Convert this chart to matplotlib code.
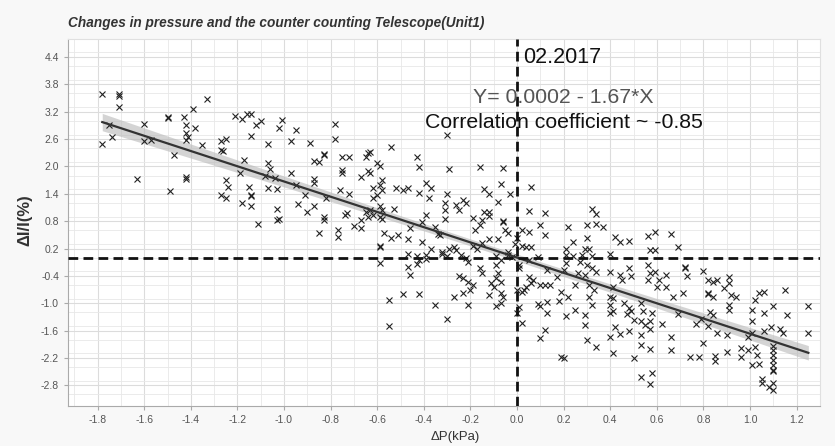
import matplotlib
matplotlib.use("Agg")
import matplotlib.pyplot as plt
import numpy as np
from matplotlib.ticker import MultipleLocator

plt.rcParams["font.family"] = ["Liberation Sans", "DejaVu Sans"]

# pressure change (kPa), intensity change (%)
dp = [
  -1.78, -1.71, -1.71, -1.71, -1.75, -1.74, -1.78, -1.60, -1.60, -1.57,
  -1.50, -1.50, -1.43, -1.39, -1.42, -1.38, -1.42, -1.41, -1.42, -1.35,
  -1.47, -1.63, -1.42, -1.42, -1.49, -1.33,
  -1.21, -1.18, -1.16, -1.14, -1.12, -1.10, -1.01,
  -1.14, -1.02, -0.95, -1.07, -0.97, -0.89, -1.27, -1.25, -1.27, -1.26,
  -1.17, -1.19, -1.07, -1.06, -1.08, -1.04, -0.97, -0.95, -0.87, -0.87, -0.87, -0.85, -0.83,
  -1.25, -1.24, -1.27, -1.25, -1.15, -1.14, -1.14, -1.18, -1.14, -1.07, -1.03, -1.03, -1.03, -1.02, -1.11,
  -0.91, -0.94, -0.87, -0.90, -0.83, -0.85,
  -0.78, -0.78, -0.83, -0.75, -0.72, -0.75, -0.75, -0.64, -0.63, -0.65, -0.54, -0.60, -0.59,
  -0.64, -0.63, -0.67, -0.43, -0.42, -0.58, -0.59, -0.62, -0.58, -0.76, -0.72, -0.82, -0.52,
  -0.49, -0.47, -0.42, -0.39, -0.37, -0.38, -0.62, -0.60, -0.59, -0.58, -0.53, -0.65, -0.64,
  -0.62, -0.63, -0.73, -0.74, -0.67, -0.70, -0.67, -0.58, -0.59, -0.83, -0.77, -0.77, -0.57,
  -0.54, -0.51, -0.47, -0.46, -0.39, -0.41, -0.35, -0.34, -0.33, -0.41, -0.37, -0.59, -0.59,
  -0.59, -0.47, -0.43, -0.42, -0.43, -0.39, -0.39, -0.32, -0.47, -0.46, -0.49, -0.42, -0.55,
  -0.35, -0.55,
  -0.30, -0.29, -0.16, -0.06, -0.07, -0.14, -0.12, -0.03, -0.08, 0.06, -0.30, -0.31, -0.31,
  -0.31, -0.26, -0.23, -0.22, -0.25, -0.19, -0.14, -0.12, -0.12, -0.15, -0.16, -0.18, -0.06,
  -0.06, -0.05, -0.04, 0.05, 0.12, 0.10, 0.12, 0.02, 0.05, 0.00, -0.01, 0.02, 0.04, 0.06,
  -0.08, -0.12, -0.15, -0.19, -0.17, -0.27, -0.26, -0.29, -0.24, -0.22, -0.30, -0.32, -0.21,
  -0.09, -0.04, -0.04, -0.02, -0.07, -0.09, 0.01, 0.01, 0.05, 0.09, 0.13, 0.17, -0.16, -0.15,
  -0.25, -0.23, -0.21, -0.19, -0.20, -0.23, -0.27, -0.21, -0.30, -0.08, -0.09, -0.11, -0.07,
  -0.10, -0.12, -0.07, -0.06, -0.07, -0.09, 0.00, 0.02, 0.03, 0.04, 0.06, 0.07, 0.05, 0.10,
  0.12, 0.14, 0.01, 0.00, 0.09, 0.10, 0.13, 0.13, 0.02, 0.12, 0.10, 0.19, 0.18, 0.19,
  0.32, 0.34, 0.30, 0.34, 0.37, 0.22, 0.24, 0.21, 0.21, 0.24, 0.30, 0.29, 0.31, 0.28, 0.32,
  0.42, 0.44, 0.48, 0.40, 0.56, 0.59, 0.66, 0.57, 0.59, 0.69, 0.21, 0.20, 0.27, 0.30, 0.32,
  0.34, 0.29, 0.26, 0.25, 0.22, 0.25, 0.21, 0.20, 0.31, 0.33, 0.31, 0.32, 0.29, 0.29, 0.30,
  0.34, 0.40, 0.44, 0.45, 0.41, 0.40, 0.41, 0.40, 0.40, 0.41, 0.42, 0.40, 0.44, 0.41, 0.48,
  0.49, 0.46, 0.48, 0.49, 0.47, 0.50, 0.48, 0.50, 0.53, 0.54, 0.53, 0.55, 0.53, 0.53, 0.57,
  0.53, 0.58, 0.57, 0.56, 0.57, 0.56, 0.59, 0.60, 0.61, 0.64, 0.64, 0.58, 0.57, 0.57, 0.62,
  0.67, 0.69, 0.66, 0.66, 0.71,
  0.72, 0.72, 0.73, 0.80, 0.82, 0.84, 0.86, 0.89, 0.91, 0.91, 0.92, 0.94, 0.91, 0.91, 0.82,
  0.82, 0.84, 0.83, 0.84, 0.77, 0.79, 0.82, 0.86, 0.90, 0.80, 0.74, 0.78, 0.85, 0.85, 0.90,
  0.96, 0.96, 0.99, 1.02, 1.03, 1.01, 1.04, 0.99, 1.01, 1.01, 1.02, 1.04, 1.06, 1.06, 1.10,
  1.15, 1.16, 1.01, 1.06, 1.09, 1.13, 1.14, 1.10, 1.10, 1.10, 1.10, 1.10, 1.10, 1.10, 1.05,
  1.05, 1.08, 1.10, 1.10, 1.25, 1.25,
]
di = [
  3.58, 3.58, 3.54, 3.31, 2.91, 2.65, 2.49, 2.93, 2.56, 2.58,
  3.08, 3.06, 3.08, 3.27, 2.91, 2.84, 2.73, 2.64, 2.58, 2.47,
  2.24, 1.72, 1.76, 1.73, 1.47, 3.48,
  3.11, 3.03, 3.14, 3.15, 2.91, 3.00, 3.02,
  2.67, 2.84, 2.81, 2.49, 2.55, 2.52, 2.56, 2.60, 2.35, 2.34,
  2.14, 1.85, 2.07, 1.94, 1.78, 1.75, 1.85, 1.59, 1.72, 1.64, 2.13, 2.10, 2.25,
  1.70, 1.54, 1.37, 1.30, 1.56, 1.35, 1.38, 1.19, 1.13, 1.52, 1.51, 1.07, 0.83, 0.84, 0.74,
  1.37, 1.17, 1.13, 0.99, 0.90, 0.53,
  2.92, 2.60, 2.27, 2.21, 2.21, 1.92, 1.85, 2.29, 2.32, 2.21, 2.43, 2.07, 2.00,
  1.91, 1.85, 1.76, 2.20, 1.98, 1.70, 1.59, 1.52, 1.48, 1.48, 1.40, 1.30, 1.52,
  1.48, 1.52, 1.42, 1.64, 1.52, 1.30, 1.30, 1.37, 1.13, 1.04, 1.06, 1.01, 0.90,
  0.94, 1.04, 0.97, 0.94, 0.83, 0.69, 0.64, 0.84, 0.90, 0.83, 0.61, 0.45, 0.53,
  0.42, 0.50, 0.40, 0.64, 0.94, 0.79, 0.68, 0.52, 0.50, 0.35, 0.20, 0.23, 0.26,
  -0.11, 0.07, 0.04, -0.05, -0.14, 0.06, -0.04, 0.07, -0.20, -0.38, -0.80, -0.80, -0.94,
  -1.04, -1.50,
  2.69, 1.94, 1.98, 1.96, 1.61, 1.50, 1.40, 1.40, 1.23, 1.54, 1.40, 1.19, 1.04,
  0.84, 1.15, 1.26, 1.20, 1.04, 0.86, 1.01, 1.01, 0.91, 0.83, 0.72, 0.61, 0.81,
  0.78, 0.61, 0.55, 1.03, 0.97, 0.72, 0.50, 0.61, 0.57, 0.42, 0.30, 0.26, 0.24, 0.24,
  0.40, 0.40, 0.31, 0.26, 0.20, 0.24, 0.17, 0.18, 0.06, -0.01, 0.04, 0.13, -0.09,
  0.04, 0.13, 0.06, 0.02, -0.05, -0.16, -0.16, -0.23, -0.05, 0.02, -0.27, -0.42, -0.23, -0.34,
  -0.40, -0.45, -0.53, -0.60, -0.71, -0.77, -0.86, -1.04, -1.35, -0.34, -0.45, -0.56, -0.53,
  -0.65, -0.82, -0.77, -0.86, -1.00, -1.06, -0.71, -0.75, -0.71, -0.64, -0.56, -0.49, -0.42, -0.60,
  -0.60, -0.60, -1.08, -1.22, -1.02, -1.06, -0.97, -1.21, -1.43, -1.59, -1.77, -0.75, -0.95, -2.19,
  1.06, 0.96, 0.72, 0.74, 0.67, 0.68, 0.35, 0.20, 0.06, 0.04, 0.42, 0.20, 0.20, 0.06, 0.04,
  0.46, 0.35, 0.37, 0.08, 0.47, 0.57, 0.52, 0.17, 0.17, 0.23, -0.12, -0.27, -0.09, -0.16, -0.23,
  -0.31, -0.38, -0.34, -0.60, -0.86, -1.15, -1.28, -2.21, -0.60, -0.71, -0.86, -1.04, -1.26, -1.48, -1.81,
  -1.97, -0.31, -0.38, -0.49, -0.64, -0.86, -0.89, -1.04, -1.22, -1.18, -1.53, -1.73, -1.67, -2.10, -0.23,
  -0.40, -1.00, -1.11, -1.18, -1.24, -1.37, -1.62, -2.21, -1.00, -1.16, -1.40, -1.48, -1.70, -1.92, -2.01,
  -2.61, -2.54, -2.78, -0.16, -0.34, -0.49, -0.31, -0.64, -0.49, -0.38, -0.65, -1.22, -1.38, -1.57, -1.45,
  -0.86, -1.24, -1.73, -2.03, -0.78,
  -0.20, -0.23, -0.40, -0.29, -0.49, -0.53, -0.49, -0.67, -0.43, -0.56, -0.82, -0.87, -1.04, -1.15, -0.77,
  -0.80, -0.87, -1.19, -1.26, -1.45, -1.35, -1.50, -1.66, -1.70, -1.87, -2.19, -2.19, -2.16, -2.26, -2.06,
  -1.99, -2.19, -2.03, -1.95, -2.13, -2.35, -2.33, -1.73, -1.40, -1.15, -0.93, -0.78, -0.75, -1.21, -1.06,
  -0.72, -1.26, -1.66, -1.62, -1.53, -1.57, -1.65, -1.94, -2.03, -2.14, -2.25, -2.35, -2.46, -2.49, -2.67,
  -2.76, -2.83, -2.76, -2.90, -1.06, -1.66,
]

# fit given on the chart
intercept = 0.0002
slope = -1.67
fit_range = [-1.78, 1.25]

x_ticks = [-1.8, -1.6, -1.4, -1.2, -1.0, -0.8, -0.6, -0.4, -0.2, 0.0, 0.2, 0.4, 0.6, 0.8, 1.0, 1.2]
y_ticks = [4.4, 3.8, 3.2, 2.6, 2.0, 1.4, 0.8, 0.2, -0.4, -1.0, -1.6, -2.2, -2.8]

x = np.array(dp)
y = np.array(di)

fig = plt.figure(figsize=(8.35, 4.46), dpi=100, facecolor="#f8f8f8")
ax = fig.add_axes([68 / 835, 1 - 406 / 446, 752 / 835, 367 / 446])
ax.set_facecolor("white")

ax.set_xlim(-1.927, 1.30)
ax.set_ylim(-3.254, 4.795)

ax.set_xticks(x_ticks)
ax.set_xticklabels([f"{v:.1f}" for v in x_ticks])
ax.set_yticks(y_ticks)
ax.set_yticklabels([f"{v:.1f}" for v in y_ticks])
ax.xaxis.set_minor_locator(MultipleLocator(0.1))
ax.yaxis.set_minor_locator(MultipleLocator(0.3))
ax.grid(which="major", color="#dcdcdc", lw=0.8)
ax.grid(which="minor", color="#e8e8e8", lw=0.6)
ax.set_axisbelow(True)
ax.tick_params(which="major", labelsize=7.5, labelcolor="#555555", color="#aaaaaa", length=3)
ax.tick_params(which="minor", length=0)
for side in ["top", "right"]:
  ax.spines[side].set_color("#e0e0e0")
for side in ["left", "bottom"]:
  ax.spines[side].set_color("#aaaaaa")

# confidence band around the stated fit
xs = np.linspace(fit_range[0], fit_range[1], 100)
ys = intercept + slope * xs
resid = y - (intercept + slope * x)
s = np.sqrt(np.sum(resid ** 2) / (len(x) - 2))
se = s * np.sqrt(1 / len(x) + (xs - x.mean()) ** 2 / np.sum((x - x.mean()) ** 2))
ax.fill_between(xs, ys - 1.96 * se, ys + 1.96 * se, color="#b8b8b8", alpha=0.6, lw=0, zorder=2)

ax.plot(x, y, "x", color="#222222", ms=4.5, mew=0.8, zorder=3)
ax.plot(xs, ys, color="#333333", lw=1.6, zorder=4)

ax.axhline(0, color="#111111", lw=2, ls=(0, (3.5, 1.9)), zorder=5)
ax.axvline(0, color="#111111", lw=2, ls=(0, (3.5, 1.9)), zorder=5)

ax.text(0.026, 4.4, "02.2017", fontsize=15.5, va="center", ha="left", color="#111111", zorder=6)
ax.text(0.2, 3.52, "Y= 0.0002 - 1.67*X", fontsize=15.3, va="center", ha="center", color="#555555", zorder=6)
ax.text(0.2, 2.97, "Correlation coefficient ~ -0.85", fontsize=15.3, va="center", ha="center",
        color="#111111", zorder=6)

fig.text(68 / 835, 1 - 23 / 446, "Changes in pressure and the counter counting Telescope(Unit1)",
         fontsize=9.8, fontweight="bold", fontstyle="italic", color="#333333", va="center", ha="left")
fig.text(25 / 835, 1 - 220 / 446, "ΔI/I(%)", fontsize=12, fontweight="bold", color="#333333",
         rotation=90, va="center", ha="center")
fig.text(455 / 835, 1 - 437 / 446, "ΔP(kPa)", fontsize=9.5, color="#333333", va="center", ha="center")

fig.savefig("out.png", dpi=100, facecolor=fig.get_facecolor())
